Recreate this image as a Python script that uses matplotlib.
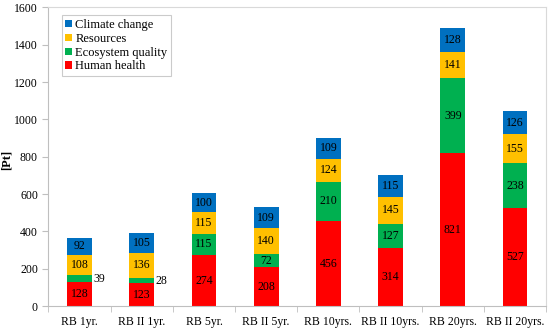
import numpy as np
import matplotlib.pyplot as plt

plt.rcParams['font.family'] = ['Liberation Serif', 'DejaVu Serif']

categories = ['RB 1yr.', 'RB II 1yr.', 'RB 5yr.', 'RB II 5yr.',
              'RB 10yrs.', 'RB II 10yrs.', 'RB 20yrs.', 'RB II 20yrs.']
human = [128, 123, 274, 208, 456, 314, 821, 527]
ecosystem = [39, 28, 115, 72, 210, 127, 399, 238]
resources = [108, 136, 115, 140, 124, 145, 141, 155]
climate = [92, 105, 100, 109, 109, 115, 128, 126]

series = [('Human health', human, '#FF0000'),
          ('Ecosystem quality', ecosystem, '#00B050'),
          ('Resources', resources, '#FFC000'),
          ('Climate change', climate, '#0070C0')]

fig = plt.figure(figsize=(5.5, 3.3), dpi=100)
ax = fig.add_axes([0.088, 0.072, 0.905, 0.906])

x = np.arange(len(categories))
bottom = np.zeros(len(categories))
handles = []
for name, vals, col in series:
    vals = np.array(vals)
    b = ax.bar(x, vals, 0.4, bottom=bottom, color=col, label=name, zorder=2)
    handles.append(b)
    for i, v in enumerate(vals):
        if name == 'Ecosystem quality' and v < 50:
            ax.text(x[i] + 0.22, bottom[i] + v / 2, str(v), ha='left', va='center', fontsize=8.5)
        else:
            ax.text(x[i], bottom[i] + v / 2, str(v), ha='center', va='center', fontsize=8.5)
    bottom += vals

ax.set_xlim(-0.5, len(categories) - 0.5)
ax.set_ylim(0, 1600)
ax.set_yticks(range(0, 1601, 200))
ax.set_xticks(x)
ax.set_xticklabels(categories, fontsize=8.5)
ax.tick_params(axis='x', length=0, pad=7)
ax.set_xticks(np.arange(-0.5, len(categories)), minor=True)
ax.tick_params(axis='x', which='minor', length=4, color='#bfbfbf')
ax.tick_params(axis='y', labelsize=8.5, length=4, color='#bfbfbf')
ax.set_ylabel('[Pt]', fontsize=9, fontweight='bold')
ax.yaxis.set_label_coords(-0.072, 0.49)

for s in ['top', 'right']:
    ax.spines[s].set_color('#d9d9d9')
for s in ['left', 'bottom']:
    ax.spines[s].set_color('#bfbfbf')

leg = ax.legend(handles[::-1], [s[0] for s in series][::-1], loc='upper left',
                bbox_to_anchor=(0.014, 0.995), fontsize=9, handlelength=0.5,
                handleheight=0.5, handletextpad=0.3, labelspacing=0.15,
                borderpad=0.3, fancybox=False, edgecolor='#bfbfbf')
leg.get_frame().set_linewidth(0.8)

fig.savefig('out.png', dpi=100)
